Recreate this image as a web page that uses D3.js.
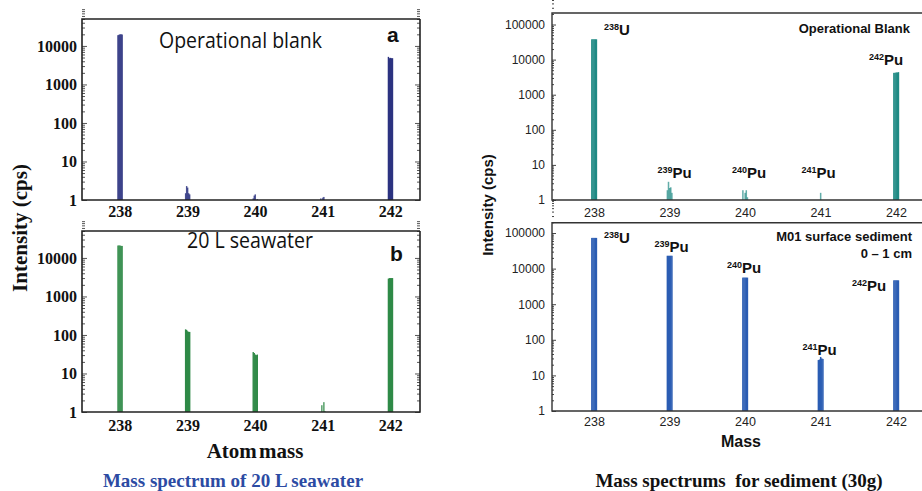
<!DOCTYPE html>
<html>
<head>
<meta charset="utf-8">
<script src="https://cdn.jsdelivr.net/npm/d3@7"></script>
<style>
  html, body { margin: 0; padding: 0; background: #fff; }
  svg { display: block; }
</style>
</head>
<body>
<svg id="chart" width="922" height="491"></svg>
<script>
// ---------------- DATA ----------------
const masses = [238, 239, 240, 241, 242];
const xTickLabels = ["238", "239", "240", "241", "242"];
// each peak is sampled as 5 narrow sub-lines across its width (mass offsets)
const subOffsets = [-0.03, -0.015, 0, 0.015, 0.03];

// (a) operational blank, 20 L seawater method
const blankSeawater = [
  [19000, 19500, 20000, 20000, 19800],
  [1.5, 2.3, 2.1, 1.5, 1.4],
  [1.1, 1.3, 1.4, 1.0, 1.05],
  [1.1, 1.0, 1.15, 1.2, 1.0],
  [5200, 4800, 4900, 4800, 4800]
];
// (b) 20 L seawater
const seawater20L = [
  [21000, 21000, 21000, 20500, 20500],
  [140, 135, 125, 120, 120],
  [36, 34, 31, 30, 31],
  [1.0, 1.5, 1.0, 1.8, 1.05],
  [2900, 3000, 3000, 3000, 3000]
];
// sediment: operational blank
const blankSediment = [
  [38000, 38000, 38000, 38000, 38000],
  [1.9, 3.3, 2.2, 2.3, 1.6],
  [1.9, 1.0, 1.6, 1.9, 1.2],
  [1.0, 1.0, 1.6, 1.0, 1.0],
  [4200, 4200, 4300, 4300, 4400]
];
// sediment: M01 surface sediment 0-1 cm
const sedimentM01 = [
  [73000, 73000, 73000, 73000, 73000],
  [23000, 23000, 23000, 23000, 23000],
  [5600, 5600, 5600, 5600, 5600],
  [27, 28, 33, 30, 29],
  [4700, 4700, 4700, 4700, 4700]
];

const yTicksLeft = [1, 10, 100, 1000, 10000];
const yTicksRight = [1, 10, 100, 1000, 10000, 100000];
const isotopeMass = ["238", "239", "240", "241", "242"];
const isotopeSymbol = ["U", "Pu", "Pu", "Pu", "Pu"];

// ---------------- DRAW ----------------
const svg = d3.select("#chart");

function minorTicks(maxExp) {
  const out = [];
  for (let e = 0; e < maxExp; e++)
    for (let k = 2; k <= 9; k++) out.push(k * Math.pow(10, e));
  return out;
}

function drawPanel(cfg) {
  const x = d3.scaleLinear().domain(cfg.xDomain).range([cfg.left, cfg.right]);
  const y = d3.scaleLog().domain(cfg.yDomain).range([cfg.bottom, cfg.top]);
  const g = svg.append("g");

  // bars (sub-lines of each peak)
  const subW = cfg.subWidth;
  masses.forEach((m, i) => {
    subOffsets.forEach((off, j) => {
      const v = cfg.values[i][j];
      if (v <= 1) return;
      const x0 = x(m + off - subW / 2), x1 = x(m + off + subW / 2);
      g.append("rect")
        .attr("x", x0).attr("width", Math.max(0.8, x1 - x0 + cfg.overlap))
        .attr("y", y(v)).attr("height", y(1) - y(v))
        .attr("fill", cfg.color)
        .attr("opacity", v < 5 ? cfg.smallOpacity : 1);
    });
  });

  // y axis with inward ticks
  const yAxis = d3.axisLeft(y).tickValues(cfg.yTicks)
    .tickFormat(d3.format("d")).tickSize(-cfg.majorLen).tickPadding(cfg.yPad);
  const ya = g.append("g").attr("transform", `translate(${cfg.left},0)`).call(yAxis);
  ya.select(".domain").remove();
  ya.selectAll("line").attr("stroke", cfg.tickColor);
  ya.selectAll("text").attr("font-family", cfg.tickFont).attr("font-size", cfg.yFontSize)
    .attr("font-weight", cfg.tickWeight).attr("fill", cfg.textColor);
  const yMinor = d3.axisLeft(y).tickValues(minorTicks(cfg.yTicks.length)).tickFormat("").tickSize(-cfg.minorLen);
  const ym = g.append("g").attr("transform", `translate(${cfg.left},0)`).call(yMinor);
  ym.select(".domain").remove();
  ym.selectAll("line").attr("stroke", cfg.tickColor);

  if (cfg.rightTicks) {
    const yr = d3.axisRight(y).tickValues(cfg.yTicks).tickFormat("").tickSize(-cfg.majorLen);
    const yra = g.append("g").attr("transform", `translate(${cfg.right},0)`).call(yr);
    yra.select(".domain").remove();
    yra.selectAll("line").attr("stroke", cfg.tickColor);
    const yrm = d3.axisRight(y).tickValues(minorTicks(cfg.yTicks.length)).tickFormat("").tickSize(-cfg.minorLen);
    const yrma = g.append("g").attr("transform", `translate(${cfg.right},0)`).call(yrm);
    yrma.select(".domain").remove();
    yrma.selectAll("line").attr("stroke", cfg.tickColor);
  }

  // x axis labels
  const xAxis = d3.axisBottom(x).tickValues(masses).tickFormat((d, i) => xTickLabels[i])
    .tickSize(0).tickPadding(cfg.xPad);
  const xa = g.append("g").attr("transform", `translate(0,${cfg.bottom})`).call(xAxis);
  xa.select(".domain").remove();
  xa.selectAll("text").attr("font-family", cfg.tickFont).attr("font-size", cfg.xFontSize)
    .attr("font-weight", cfg.tickWeight).attr("fill", cfg.textColor);

  // frame
  g.append("path")
    .attr("d", cfg.rightBorder
      ? `M${cfg.right},${cfg.top}H${cfg.left}V${cfg.bottom}H${cfg.right}V${cfg.top}`
      : `M${cfg.right + 10},${cfg.top}H${cfg.left}V${cfg.bottom}H${cfg.right + 10}`)
    .attr("fill", "none").attr("stroke", cfg.frameColor).attr("stroke-width", cfg.frameWidth);

  return { x, y, g };
}

// ---- Left panels ----
const leftCommon = {
  xDomain: [237.44, 242.44], left: 82, right: 420,
  yDomain: [1, 50000], yTicks: yTicksLeft,
  subWidth: 0.015, overlap: 0.4, smallOpacity: 0.85,
  majorLen: 5, minorLen: 3, tickColor: "#555", rightTicks: true, rightBorder: true,
  tickFont: "'Liberation Serif', 'Times New Roman', serif", tickWeight: "bold",
  yFontSize: 16, xFontSize: 16, yPad: 5, textColor: "#111",
  frameColor: "#222", frameWidth: 1.6
};
drawPanel(Object.assign({}, leftCommon, {
  top: 19, bottom: 200, values: blankSeawater, color: "#2c3380", xPad: 6
}));
drawPanel(Object.assign({}, leftCommon, {
  top: 231, bottom: 412, values: seawater20L, color: "#2f8a47", xPad: 7.5
}));

// panel titles
const sansTitle = "'Open Sans', 'Noto Sans', sans-serif";
svg.append("text").attr("x", 159).attr("y", 48).text("Operational blank")
  .attr("font-family", sansTitle).attr("font-size", 21).attr("fill", "#111")
  .attr("textLength", 163).attr("lengthAdjust", "spacingAndGlyphs");
svg.append("text").attr("x", 187).attr("y", 248).text("20 L seawater")
  .attr("font-family", sansTitle).attr("font-size", 21).attr("fill", "#111")
  .attr("textLength", 126).attr("lengthAdjust", "spacingAndGlyphs");
svg.append("text").attr("x", 387).attr("y", 42).text("a")
  .attr("font-family", "'Liberation Sans', Arial, sans-serif").attr("font-weight", "bold")
  .attr("font-size", 21).attr("fill", "#111");
svg.append("text").attr("x", 390).attr("y", 261).text("b")
  .attr("font-family", "'Liberation Sans', Arial, sans-serif").attr("font-weight", "bold")
  .attr("font-size", 21).attr("fill", "#111");

// left axis titles
svg.append("text").attr("transform", "translate(27,228) rotate(-90)")
  .attr("text-anchor", "middle").text("Intensity (cps)")
  .attr("font-family", "'Liberation Serif', 'Times New Roman', serif")
  .attr("font-weight", "bold").attr("font-size", 21).attr("fill", "#111");
svg.append("text").attr("x", 255).attr("y", 458).attr("text-anchor", "middle")
  .text("Atom mass")
  .attr("font-family", "'Liberation Serif', 'Times New Roman', serif")
  .attr("font-weight", "bold").attr("font-size", 21).attr("fill", "#111")
  .attr("word-spacing", -3);
svg.append("text").attr("x", 233).attr("y", 487).attr("text-anchor", "middle")
  .text("Mass spectrum of 20 L seawater")
  .attr("font-family", "'Liberation Serif', 'Times New Roman', serif")
  .attr("font-weight", "bold").attr("font-size", 19).attr("fill", "#2c4ba3");

// ---- Right panels ----
const rightCommon = {
  xDomain: [237.444, 242.45], left: 552, right: 930,
  subWidth: 0.016, overlap: 0.3, smallOpacity: 0.7,
  majorLen: 4, minorLen: 2, tickColor: "#444", rightTicks: false, rightBorder: false,
  tickFont: "'Liberation Sans', Arial, sans-serif", tickWeight: "normal",
  yFontSize: 12, xFontSize: 12.5, yPad: 7, textColor: "#222",
  frameColor: "#333", frameWidth: 1.4, yTicks: yTicksRight
};
const pTop = drawPanel(Object.assign({}, rightCommon, {
  top: 13, bottom: 200, yDomain: [1, 213000], values: blankSediment, color: "#1f8a84", xPad: 8
}));
const pBot = drawPanel(Object.assign({}, rightCommon, {
  top: 222.7, bottom: 411, yDomain: [1, 195000], values: sedimentM01, color: "#2b5db3", xPad: 6.5
}));

const arial = "'Liberation Sans', Arial, sans-serif";
function isoLabel(p, i, dx, yVal) {
  const t = svg.append("text")
    .attr("x", p.x(masses[i]) + dx).attr("y", p.y(yVal))
    .attr("font-family", arial).attr("font-weight", "bold").attr("fill", "#111");
  t.append("tspan").text(isotopeMass[i]).attr("font-size", 9).attr("dy", -5);
  t.append("tspan").text(isotopeSymbol[i]).attr("font-size", 15).attr("dy", 5);
}
// top-right annotations
isoLabel(pTop, 0, 10, 50000);
isoLabel(pTop, 1, -12, 4.2);
isoLabel(pTop, 2, -13, 4.2);
isoLabel(pTop, 3, -19, 4.2);
isoLabel(pTop, 4, -27, 7000);
// bottom-right annotations
isoLabel(pBot, 0, 10, 53000);
isoLabel(pBot, 1, -15, 29500);
isoLabel(pBot, 2, -18, 7600);
isoLabel(pBot, 3, -18, 37);
isoLabel(pBot, 4, -44, 2350);

svg.append("text").attr("x", 910).attr("y", 33).attr("text-anchor", "end")
  .text("Operational Blank").attr("font-family", arial).attr("font-weight", "bold")
  .attr("font-size", 13).attr("fill", "#111");
svg.append("text").attr("x", 912).attr("y", 241).attr("text-anchor", "end")
  .text("M01 surface sediment").attr("font-family", arial).attr("font-weight", "bold")
  .attr("font-size", 13).attr("fill", "#111");
svg.append("text").attr("x", 912).attr("y", 258).attr("text-anchor", "end")
  .text("0 – 1 cm").attr("font-family", arial).attr("font-weight", "bold")
  .attr("font-size", 13).attr("fill", "#111");

svg.append("text").attr("transform", "translate(493,205) rotate(-90)")
  .attr("text-anchor", "middle").text("Intensity (cps)")
  .attr("font-family", arial).attr("font-weight", "bold").attr("font-size", 15).attr("fill", "#111");
svg.append("text").attr("x", 741).attr("y", 447).attr("text-anchor", "middle")
  .text("Mass").attr("font-family", arial).attr("font-weight", "bold")
  .attr("font-size", 16).attr("fill", "#111");
svg.append("text").attr("x", 739).attr("y", 487).attr("text-anchor", "middle")
  .text("Mass spectrums  for sediment (30g)").attr("xml:space", "preserve")
  .style("white-space", "pre")
  .attr("font-family", "'Liberation Serif', 'Times New Roman', serif")
  .attr("font-weight", "bold").attr("font-size", 19).attr("fill", "#111");
</script>
</body>
</html>
